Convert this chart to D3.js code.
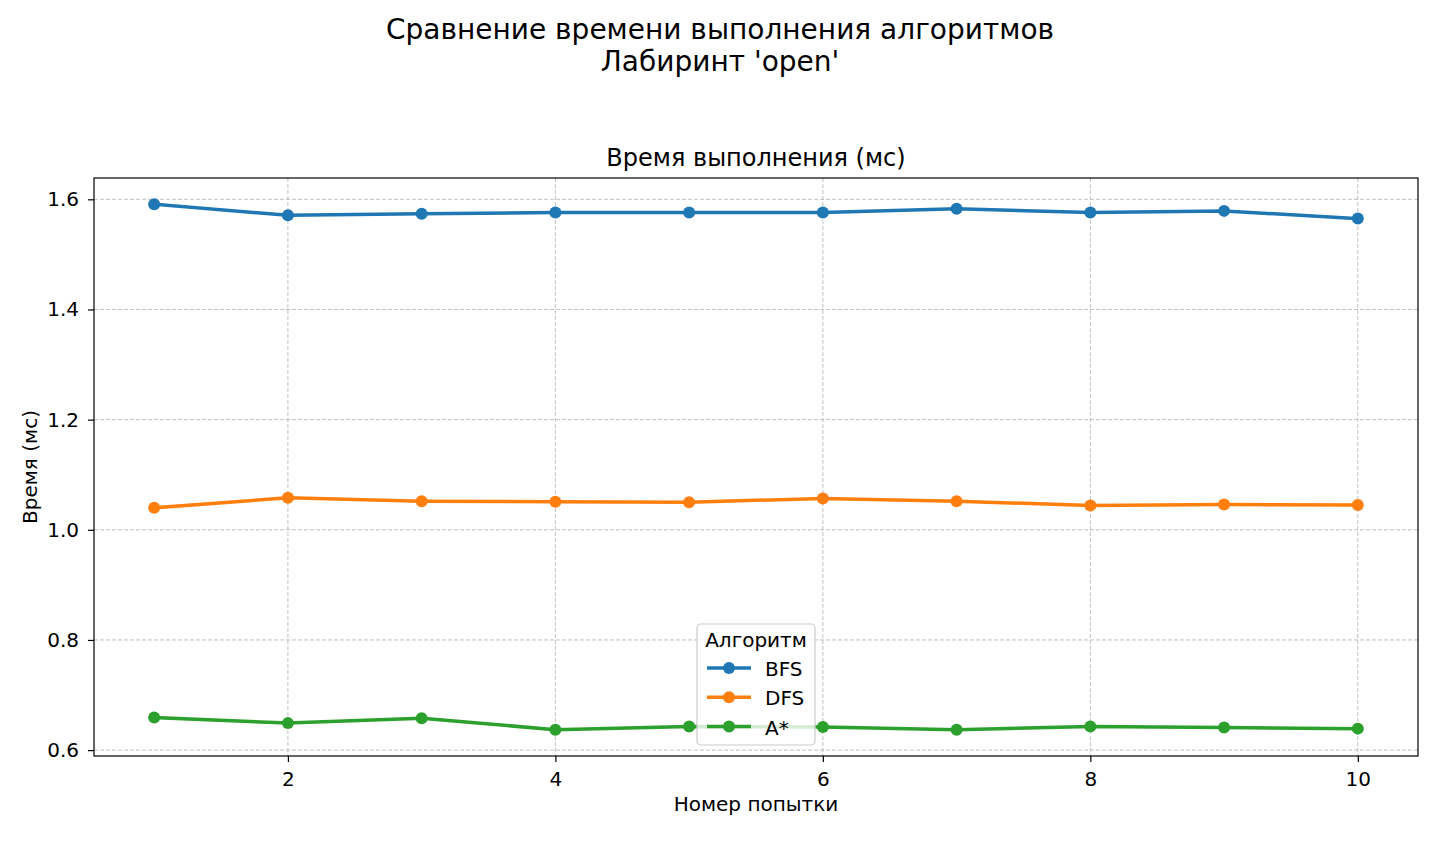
<!DOCTYPE html>
<html>
<head>
<meta charset="utf-8">
<script src="https://cdn.jsdelivr.net/npm/d3@7"></script>
<style>
  body { margin: 0; background: #fff; }
  svg text { font-family: "DejaVu Sans", sans-serif; fill: #000; }
</style>
</head>
<body>
<svg id="svg" width="1440" height="864"></svg>
<script>
// attempts 1..10
var attempts = [1, 2, 3, 4, 5, 6, 7, 8, 9, 10]
var bfsTimes = [1.591, 1.571, 1.574, 1.576, 1.576, 1.576, 1.583, 1.576, 1.579, 1.565]
var dfsTimes = [1.040, 1.058, 1.052, 1.051, 1.050, 1.057, 1.052, 1.044, 1.046, 1.045]
var astarTimes = [0.659, 0.649, 0.658, 0.637, 0.643, 0.642, 0.637, 0.643, 0.641, 0.639]
var seriesNames = ["BFS", "DFS", "A*"]
var seriesColors = ["#1f77b4", "#ff7f0e", "#2ca02c"]
var xTicks = [2, 4, 6, 8, 10]
var yTicks = [0.6, 0.8, 1.0, 1.2, 1.4, 1.6]

var series = [bfsTimes, dfsTimes, astarTimes].map(function (vals, i) {
    return {
        name: seriesNames[i],
        color: seriesColors[i],
        values: vals.map(function (v, j) { return { x: attempts[j], y: v } })
    }
})

var svg = d3.select("#svg"),
    margin = { top: 178, right: 22, bottom: 108, left: 94 },
    width = +svg.attr("width") - margin.left - margin.right,
    height = +svg.attr("height") - margin.top - margin.bottom

// matplotlib-like 5% padding
var allY = [].concat(bfsTimes, dfsTimes, astarTimes)
var yMin = d3.min(allY), yMax = d3.max(allY)
var yPad = (yMax - yMin) * 0.05
var x = d3.scaleLinear().domain([0.55, 10.45]).range([0, width])
var y = d3.scaleLinear().domain([yMin - yPad, yMax + yPad]).range([height, 0])

var g = svg.append("g").attr("transform", translate(margin.left, margin.top))

// grid
g.append("g").selectAll("line").data(xTicks).enter().append("line")
    .attr("x1", d => x(d)).attr("x2", d => x(d))
    .attr("y1", 0).attr("y2", height)
    .attr("stroke", "#b0b0b0").attr("stroke-width", 0.8).attr("stroke-dasharray", "4,2")
g.append("g").selectAll("line").data(yTicks).enter().append("line")
    .attr("x1", 0).attr("x2", width)
    .attr("y1", d => y(d)).attr("y2", d => y(d))
    .attr("stroke", "#b0b0b0").attr("stroke-width", 0.8).attr("stroke-dasharray", "4,2")

// lines + markers
var line = d3.line().x(d => x(d.x)).y(d => y(d.y))
series.forEach(function (s) {
    g.append("path").datum(s.values)
        .attr("fill", "none").attr("stroke", s.color)
        .attr("stroke-width", 3.5).attr("stroke-linejoin", "round").attr("stroke-linecap", "square")
        .attr("d", line)
    g.append("g").selectAll("circle").data(s.values).enter().append("circle")
        .attr("cx", d => x(d.x)).attr("cy", d => y(d.y)).attr("r", 6)
        .attr("fill", s.color)
})

// axes
var xAxis = g.append("g").attr("transform", translate(0, height))
    .call(d3.axisBottom(x).tickValues(xTicks).tickSize(6).tickPadding(10).tickFormat(d3.format("d")))
var yAxis = g.append("g")
    .call(d3.axisLeft(y).tickValues(yTicks).tickSize(6).tickPadding(9).tickFormat(d3.format(".1f")))
;[xAxis, yAxis].forEach(function (a) {
    a.select(".domain").remove()
    a.selectAll(".tick line").attr("stroke", "#000").attr("stroke-width", 1.2)
    a.selectAll(".tick text").attr("font-size", "20px").attr("font-family", "DejaVu Sans")
})

// frame
g.append("rect").attr("width", width).attr("height", height)
    .attr("fill", "none").attr("stroke", "#000").attr("stroke-width", 1.2)

// legend
var lg = g.append("g").attr("transform", translate(x(0.55) + 603, 446))
lg.append("rect").attr("x", 0).attr("y", 0).attr("width", 118).attr("height", 121)
    .attr("rx", 4).attr("fill", "#fff").attr("fill-opacity", 0.8)
    .attr("stroke", "#cccccc").attr("stroke-width", 1.2)
lg.append("text").attr("x", 59).attr("y", 23).attr("text-anchor", "middle")
    .attr("font-size", "20px").text("Алгоритм")
series.forEach(function (s, i) {
    var ly = 44 + i * 29.3
    lg.append("line").attr("x1", 10).attr("x2", 54).attr("y1", ly).attr("y2", ly)
        .attr("stroke", s.color).attr("stroke-width", 3.5)
    lg.append("circle").attr("cx", 32).attr("cy", ly).attr("r", 6).attr("fill", s.color)
    lg.append("text").attr("x", 68).attr("y", ly + 8).attr("font-size", "20px").text(s.name)
})

// titles
svg.append("text").attr("x", 720).attr("y", 39).attr("text-anchor", "middle")
    .attr("font-size", "28px").text("Сравнение времени выполнения алгоритмов")
svg.append("text").attr("x", 720).attr("y", 71).attr("text-anchor", "middle")
    .attr("font-size", "28px").text("Лабиринт 'open'")
svg.append("text").attr("x", margin.left + width / 2).attr("y", 166).attr("text-anchor", "middle")
    .attr("font-size", "24px").text("Время выполнения (мс)")
svg.append("text").attr("x", margin.left + width / 2).attr("y", 811).attr("text-anchor", "middle")
    .attr("font-size", "20px").text("Номер попытки")
svg.append("text").attr("transform", "translate(37," + (margin.top + height / 2) + ") rotate(-90)")
    .attr("text-anchor", "middle").attr("font-size", "20px").text("Время (мс)")

function translate(x, y) {
    return "translate(" + x + "," + y + ")"
}
</script>
</body>
</html>
